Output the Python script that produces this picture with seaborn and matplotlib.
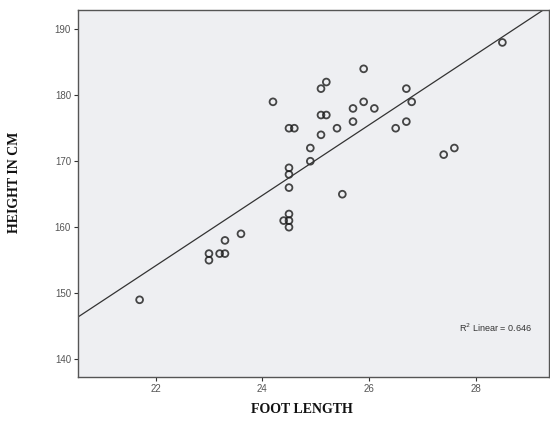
import matplotlib
matplotlib.use("Agg")
import matplotlib.pyplot as plt
import seaborn as sns
import pandas as pd

# foot length (cm) vs height (cm)
foot_length = [21.7, 23.0, 23.0, 23.2, 23.3, 23.3, 23.6, 24.4, 24.5, 24.5,
               24.5, 24.5, 24.5, 24.5, 24.5, 24.6, 24.2, 24.9, 24.9, 25.1,
               25.1, 25.2, 25.1, 25.2, 25.4, 25.5, 25.7, 25.7, 25.9, 25.9,
               26.1, 26.5, 26.7, 26.7, 26.8, 27.4, 27.6, 28.5]
height_cm = [149, 155, 156, 156, 156, 158, 159, 161, 161, 160,
             162, 166, 168, 169, 175, 175, 179, 170, 172, 174,
             177, 177, 181, 182, 175, 165, 176, 178, 179, 184,
             178, 175, 176, 181, 179, 171, 172, 188]

x_ticks = [22, 24, 26, 28]
y_ticks = [140, 150, 160, 170, 180, 190]
r2_label = "R$^2$ Linear = 0.646"

df = pd.DataFrame({"foot": foot_length, "height": height_cm})

sns.set_style("ticks")
plt.rcParams["font.family"] = ["Liberation Sans", "DejaVu Sans"]

fig = plt.figure(figsize=(5.5, 4.21), dpi=100)
ax = fig.add_axes([0.1418, 0.1045, 0.856, 0.8715])
ax.set_facecolor("#eeeff2")

ax.set_xlim(20.545, 29.37)
ax.set_ylim(137.3, 192.9)

sns.regplot(data=df, x="foot", y="height", ci=None, truncate=False, ax=ax,
            scatter_kws=dict(s=24, facecolors="none", edgecolors="#1a1a1a",
                             linewidths=1.3),
            line_kws=dict(color="#333333", lw=0.9))

ax.set_xticks(x_ticks)
ax.set_yticks(y_ticks)
ax.tick_params(axis="both", labelsize=7, colors="#333333", length=3,
               width=0.8, labelcolor="#555555", pad=2)
for s in ax.spines.values():
    s.set_color("#555555")
    s.set_linewidth(1.0)

ax.set_xlabel("FOOT LENGTH", family="Liberation Serif", fontweight="bold",
              fontsize=10, color="#111111")
ax.set_ylabel("HEIGHT IN CM", family="Liberation Serif", fontweight="bold",
              fontsize=10, color="#111111")
ax.xaxis.set_label_coords(0.475, -0.072)
ax.yaxis.set_label_coords(-0.121, 0.53)

ax.text(0.965, 0.135, r2_label, transform=ax.transAxes, ha="right",
        va="center", fontsize=6.5, color="#333333")

fig.savefig("out.png", dpi=100)
